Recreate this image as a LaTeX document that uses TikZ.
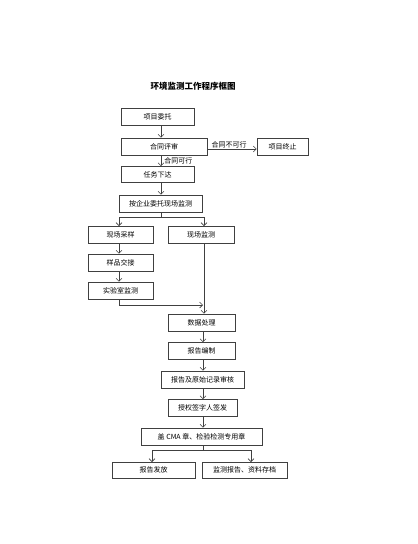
\documentclass[tikz,border=0pt]{standalone}
\usepackage{fontspec}
\newfontfamily\cjk{Noto Sans CJK SC}
\usetikzlibrary{arrows.meta, positioning}

\begin{document}
\begin{tikzpicture}[x=1pt, y=-1pt,
        box/.style={draw=black!75, line width=0.6pt, rectangle, minimum height=17pt, inner sep=0pt, align=center, fill=white, font=\cjk\fontsize{7}{8}\selectfont},
        lbl/.style={font=\cjk\fontsize{7}{8}\selectfont, inner sep=1pt},
        arrow/.style={draw=black!75, line width=0.6pt, -{Straight Barb[length=3pt, width=6pt]}},
        line/.style={draw=black!75, line width=0.6pt}
    ]
    \useasboundingbox (0,0) rectangle (418,544);

    % Title
    \node[font=\cjk\bfseries\fontsize{8.5}{9}\selectfont] (title) at (193,86) {环境监测工作程序框图};

    % Contract stage
    \node[box, minimum width=73pt] (wt) at (157.5,116.5) {项目委托};
    \node[box, minimum width=86pt] (ps) at (164,146.5) {合同评审};
    \node[box, minimum width=51pt] (zz) at (282.5,146.5) {项目终止};
    \node[box, minimum width=73pt, minimum height=16pt] (xd) at (157.5,174.5) {任务下达};
    \node[box, minimum width=83pt] (jc) at (160.5,203.5) {按企业委托现场监测};

    \draw[arrow] (wt.south -| 161,0) -- (ps.north -| 161,0);
    \draw[arrow] (ps.east |- 0,149) -- node[lbl, above, xshift=-3pt] {合同不可行} (zz.west |- 0,149);
    \draw[arrow] (ps.south -| 161,0) -- node[lbl, right, xshift=2pt] {合同可行} (xd.north -| 161,0);
    \draw[arrow] (xd.south -| 161,0) -- (jc.north -| 161,0);

    % Sampling and on-site monitoring
    \node[box, minimum width=65pt] (cy) at (120.5,234.5) {现场采样};
    \node[box, minimum width=66pt] (xc) at (201,234.5) {现场监测};
    \node[box, minimum width=65pt] (jj) at (120.5,262.5) {样品交接};
    \node[box, minimum width=65pt] (sy) at (120.5,290.5) {实验室监测};

    \coordinate (fk1) at (161,217);
    \draw[line] (jc.south -| fk1) -- (fk1);
    \draw[arrow] (fk1) -| (119,226);
    \draw[arrow] (fk1) -| (204,226);
    \draw[arrow] (cy.south -| 119,0) -- (jj.north -| 119,0);
    \draw[arrow] (jj.south -| 119,0) -- (sy.north -| 119,0);

    % Data and report
    \node[box, minimum width=67pt] (sj) at (201.5,322.5) {数据处理};
    \node[box, minimum width=67pt] (bz) at (201.5,351) {报告编制};
    \node[box, minimum width=83pt] (sh) at (202.5,379.5) {报告及原始记录审核};
    \node[box, minimum width=69pt] (qf) at (202.5,408) {授权签字人签发};
    \node[box, minimum width=121pt] (gz) at (201.5,436.5) {盖 CMA 章、检验检测专用章};

    \coordinate (hb) at (203,305);
    \draw[arrow] (sy.south -| 119,0) |- (hb);
    \draw[arrow] (xc.south -| 204,0) -- (sj.north -| 204,0);
    \draw[arrow] (sj.south -| 203,0) -- (bz.north -| 203,0);
    \draw[arrow] (bz.south -| 203,0) -- (sh.north -| 203,0);
    \draw[arrow] (sh.south -| 203,0) -- (qf.north -| 203,0);
    \draw[arrow] (qf.south -| 203,0) -- (gz.north -| 203,0);

    % Issue and archive
    \node[box, minimum width=83pt, minimum height=16pt] (ff) at (153.5,470) {报告发放};
    \node[box, minimum width=85pt, minimum height=16pt] (cd) at (244.5,470) {监测报告、资料存档};

    \coordinate (fk2) at (203,450);
    \draw[line] (gz.south -| fk2) -- (fk2);
    \draw[arrow] (fk2) -| (152,462);
    \draw[arrow] (fk2) -| (251,462);

\end{tikzpicture}
\end{document}
